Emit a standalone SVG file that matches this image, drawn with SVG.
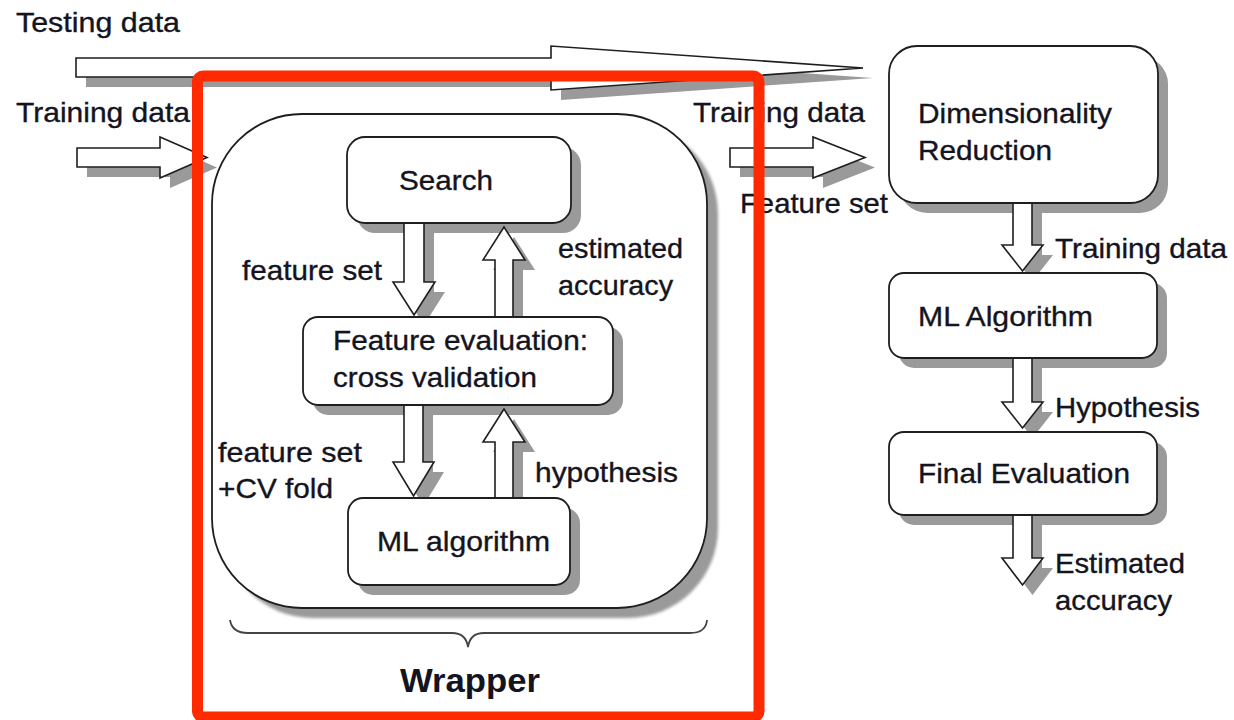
<svg xmlns="http://www.w3.org/2000/svg" width="1234" height="720" viewBox="0 0 1234 720">
  <style>
    .box { fill: #ffffff; stroke: #1e1e1e; stroke-width: 1.8; }
    .shadow { fill: #9a9a9a; }
    .arrow { fill: #ffffff; stroke: #1e1e1e; stroke-width: 1.6; stroke-linejoin: miter; }
    .lbl { font-family: "Liberation Sans", Arial, sans-serif; font-size: 28px; fill: #141420; stroke: #141420; stroke-width: 0.35; }
    .title { font-family: "Liberation Sans", Arial, sans-serif; font-size: 34px; font-weight: bold; fill: #141420; }
    .brace { fill: none; stroke: #444444; stroke-width: 1.8; }
    .frame { fill: none; stroke: #ff2a00; stroke-width: 11; }
  </style>
  <defs>
    <filter id="soft" x="-10%" y="-10%" width="120%" height="120%">
      <feGaussianBlur stdDeviation="1.5"/>
    </filter>
  </defs>

  <rect width="1234" height="720" fill="#ffffff"/>

  <!-- wrapper container -->
  <g id="wrapper">
    <rect class="shadow" filter="url(#soft)" x="223" y="124" width="495" height="494" rx="90"/>
    <rect class="box" x="212" y="114" width="495" height="494" rx="90"/>
    <path class="brace" d="M230,620 Q232,633 248,633 H452 Q466,633 468,647 Q470,633 484,633 H690 Q706,633 707,620"/>
    <text class="title" x="400" y="692" textLength="140" lengthAdjust="spacingAndGlyphs">Wrapper</text>
  </g>

  <!-- drop shadows of the process boxes -->
  <g id="box-shadows">
    <rect class="shadow" x="357" y="147" width="224" height="86" rx="18"/>
    <rect class="shadow" x="313" y="327" width="310" height="88" rx="15"/>
    <rect class="shadow" x="358" y="508" width="222" height="87" rx="15"/>
    <rect class="shadow" x="899" y="56" width="269" height="157" rx="28"/>
    <rect class="shadow" x="899" y="283" width="268" height="85" rx="15"/>
    <rect class="shadow" x="899" y="442" width="268" height="83" rx="15"/>
  </g>

  <!-- block arrows -->
  <g id="connectors">
    <g transform="translate(10,10)">
      <path class="shadow" d="M76,58 H551 V46 L863,68 L551,90 V77 H76 Z"/>
      <path class="shadow" d="M77,148 H160 V137 L207,157.5 L160,178 V167 H77 Z"/>
      <path class="shadow" d="M730,148 H813 V137 L865,157.5 L813,178 V167 H730 Z"/>
      <path class="shadow" d="M404,223 V282 H393 L414,315 L435,282 H424 V223 Z"/>
      <path class="shadow" d="M495,317 V260 H483 L504,227 L525,260 H513 V317 Z"/>
      <path class="shadow" d="M404,405 V462 H393 L413.5,496 L434,462 H423 V405 Z"/>
      <path class="shadow" d="M495,498 V442 H483 L504,409 L525,442 H513 V498 Z"/>
      <path class="shadow" d="M1013,203 V245 H1002 L1022.5,271 L1043,245 H1032 V203 Z"/>
      <path class="shadow" d="M1013,358 V402 H1002 L1022.5,428 L1043,402 H1032 V358 Z"/>
      <path class="shadow" d="M1013,515 V558 H1002 L1022.5,585 L1043,558 H1032 V515 Z"/>
    </g>
    <path id="testing-arrow" class="arrow" d="M76,58 H551 V46 L863,68 L551,90 V77 H76 Z"/>
    <path id="training-in" class="arrow" d="M77,148 H160 V137 L207,157.5 L160,178 V167 H77 Z"/>
    <path id="training-out" class="arrow" d="M730,148 H813 V137 L865,157.5 L813,178 V167 H730 Z"/>
    <path id="search-to-eval" class="arrow" d="M404,223 V282 H393 L414,315 L435,282 H424 V223 Z"/>
    <path id="eval-to-search" class="arrow" d="M495,317 V260 H483 L504,227 L525,260 H513 V317 Z"/>
    <path id="eval-to-ml" class="arrow" d="M404,405 V462 H393 L413.5,496 L434,462 H423 V405 Z"/>
    <path id="ml-to-eval" class="arrow" d="M495,498 V442 H483 L504,409 L525,442 H513 V498 Z"/>
    <path id="dr-to-ml" class="arrow" d="M1013,203 V245 H1002 L1022.5,271 L1043,245 H1032 V203 Z"/>
    <path id="ml-to-final" class="arrow" d="M1013,358 V402 H1002 L1022.5,428 L1043,402 H1032 V358 Z"/>
    <path id="final-out" class="arrow" d="M1013,515 V558 H1002 L1022.5,585 L1043,558 H1032 V515 Z"/>

    <text class="lbl" x="16" y="32" textLength="164" lengthAdjust="spacingAndGlyphs">Testing data</text>
    <text class="lbl" x="16" y="122" textLength="174" lengthAdjust="spacingAndGlyphs">Training data</text>
    <text class="lbl" x="693" y="122" textLength="172" lengthAdjust="spacingAndGlyphs">Training data</text>
    <text class="lbl" x="740" y="213" textLength="148" lengthAdjust="spacingAndGlyphs">Feature set</text>
    <text class="lbl" x="242" y="280" textLength="140" lengthAdjust="spacingAndGlyphs">feature set</text>
    <text class="lbl" x="558" y="258" textLength="125" lengthAdjust="spacingAndGlyphs">estimated</text>
    <text class="lbl" x="558" y="295" textLength="115" lengthAdjust="spacingAndGlyphs">accuracy</text>
    <text class="lbl" x="218" y="462" textLength="144" lengthAdjust="spacingAndGlyphs">feature set</text>
    <text class="lbl" x="218" y="498" textLength="115" lengthAdjust="spacingAndGlyphs">+CV fold</text>
    <text class="lbl" x="535" y="482" textLength="143" lengthAdjust="spacingAndGlyphs">hypothesis</text>
    <text class="lbl" x="1055" y="258" textLength="172" lengthAdjust="spacingAndGlyphs">Training data</text>
    <text class="lbl" x="1055" y="417" textLength="145" lengthAdjust="spacingAndGlyphs">Hypothesis</text>
    <text class="lbl" x="1055" y="573" textLength="130" lengthAdjust="spacingAndGlyphs">Estimated</text>
    <text class="lbl" x="1055" y="610" textLength="117" lengthAdjust="spacingAndGlyphs">accuracy</text>
  </g>

  <g id="search">
    <rect class="box" x="347" y="137" width="224" height="86" rx="18"/>
    <text class="lbl" x="399" y="190" textLength="94" lengthAdjust="spacingAndGlyphs">Search</text>
  </g>

  <g id="feature-evaluation">
    <rect class="box" x="303" y="317" width="310" height="88" rx="15"/>
    <text class="lbl" x="333" y="350" textLength="255" lengthAdjust="spacingAndGlyphs">Feature evaluation:</text>
    <text class="lbl" x="333" y="387" textLength="204" lengthAdjust="spacingAndGlyphs">cross validation</text>
  </g>

  <g id="ml-algorithm-inner">
    <rect class="box" x="348" y="498" width="222" height="87" rx="15"/>
    <text class="lbl" x="377" y="551" textLength="173" lengthAdjust="spacingAndGlyphs">ML algorithm</text>
  </g>

  <g id="dimensionality-reduction">
    <rect class="box" x="889" y="46" width="269" height="157" rx="28"/>
    <text class="lbl" x="918" y="123" textLength="194" lengthAdjust="spacingAndGlyphs">Dimensionality</text>
    <text class="lbl" x="918" y="160" textLength="134" lengthAdjust="spacingAndGlyphs">Reduction</text>
  </g>

  <g id="ml-algorithm">
    <rect class="box" x="889" y="273" width="268" height="85" rx="15"/>
    <text class="lbl" x="918" y="326" textLength="175" lengthAdjust="spacingAndGlyphs">ML Algorithm</text>
  </g>

  <g id="final-evaluation">
    <rect class="box" x="889" y="432" width="268" height="83" rx="15"/>
    <text class="lbl" x="918" y="483" textLength="212" lengthAdjust="spacingAndGlyphs">Final Evaluation</text>
  </g>

  <!-- highlight frame around the wrapper -->
  <rect id="highlight" class="frame" x="197.5" y="76" width="561.5" height="641" rx="6"/>
</svg>
